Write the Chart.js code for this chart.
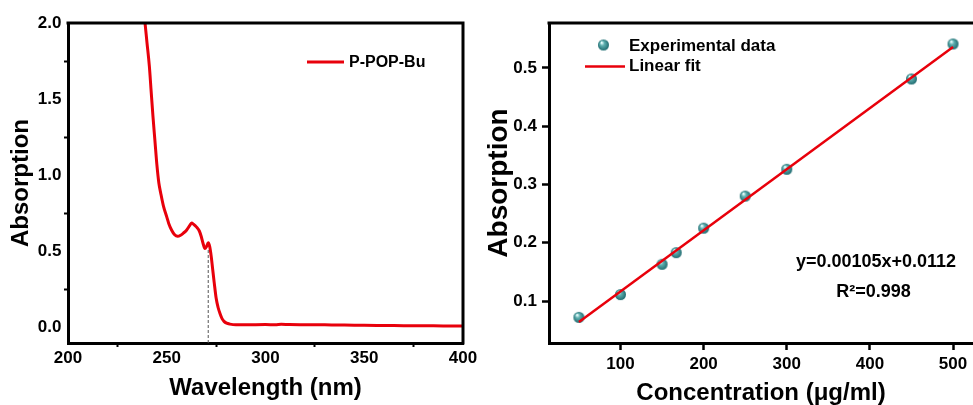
<!DOCTYPE html>
<html>
<head>
<meta charset="utf-8">
<script src="https://cdn.jsdelivr.net/npm/chart.js@4.4.1/dist/chart.umd.min.js"></script>
<style>
  html, body { margin: 0; padding: 0; background: #fff; overflow: hidden; width: 973px; height: 405px; }
  canvas { position: absolute; top: 0; }
  #spectrum { left: 0; }
  #calib { left: 478px; }
</style>
</head>
<body>
<canvas id="spectrum" width="485" height="405"></canvas>
<canvas id="calib" width="495" height="405"></canvas>
<script>
// UV-vis spectrum of P-POP-Bu (left panel)
const wavelength = [238, 239, 240, 241.2, 242, 243, 244, 245, 246, 247, 248.3, 250, 251, 252.5, 254, 255.5,
  257, 258.5, 260, 261.5, 262.6, 263.5, 265, 266.5, 267.5, 268.5, 269.3, 270.2, 271, 271.8, 272.5, 273.2,
  274, 275, 276, 277, 278, 279, 280.3, 282, 285, 290, 300, 305, 308, 312, 320, 330, 340, 350, 360, 370,
  380, 390, 400];
const absorbance = [2.12, 2.0, 1.87, 1.715, 1.57, 1.39, 1.23, 1.07, 0.95, 0.88, 0.80, 0.728, 0.685, 0.64,
  0.61, 0.6, 0.607, 0.622, 0.64, 0.668, 0.688, 0.68, 0.662, 0.635, 0.597, 0.548, 0.52, 0.535, 0.558,
  0.53, 0.47, 0.39, 0.3, 0.195, 0.133, 0.092, 0.06, 0.042, 0.03, 0.024, 0.02, 0.02, 0.021, 0.02, 0.023,
  0.021, 0.02, 0.019, 0.018, 0.016, 0.015, 0.014, 0.013, 0.012, 0.011];
// dashed marker under the 271 nm shoulder
const markerX = [271, 271];
const markerY = [-0.1, 0.52];

// calibration (right panel)
const concentration = [50, 100, 150, 167, 200, 250, 300, 450, 500];
const measured = [0.072, 0.111, 0.163, 0.183, 0.225, 0.28, 0.326, 0.481, 0.541];
const fitX = [50, 500];
const fitY = [0.064, 0.536];

const RED = '#e8000b';
const FONT = "'Liberation Sans', Arial, sans-serif";

Chart.defaults.font.family = FONT;
Chart.defaults.font.weight = 'bold';
Chart.defaults.color = '#000';

function isStep(v, step) {
  const q = v / step;
  return Math.abs(q - Math.round(q)) < 1e-6;
}

// shaded ball used for the experimental points
function makeBall(r) {
  const c = document.createElement('canvas');
  c.width = c.height = Math.ceil(2 * r + 2);
  const g = c.getContext('2d');
  const m = c.width / 2;
  const grad = g.createRadialGradient(m - r * 0.35, m - r * 0.45, r * 0.1, m, m, r);
  grad.addColorStop(0, '#eaffff');
  grad.addColorStop(0.35, '#5fb0b0');
  grad.addColorStop(1, '#1f6b70');
  g.fillStyle = grad;
  g.beginPath();
  g.arc(m, m, r, 0, Math.PI * 2);
  g.fill();
  return c;
}
const ball = makeBall(5.5);

// top (and right) edges of the plot box
const frame = {
  id: 'frame',
  afterDraw: function(chart, args, opts) {
    const a = chart.chartArea;
    const ctx = chart.ctx;
    ctx.save();
    ctx.strokeStyle = '#000';
    ctx.lineWidth = 3;
    ctx.beginPath();
    ctx.moveTo(a.left - 1.5, a.top);
    ctx.lineTo(a.right + (opts.right ? 1.5 : 0), a.top);
    if (opts.right) {
      ctx.moveTo(a.right, a.top);
      ctx.lineTo(a.right, a.bottom + 1.5);
    }
    ctx.stroke();
    ctx.restore();
  }
};

// hand-placed legend + equation text
const notes = {
  id: 'notes',
  afterDraw: function(chart, args, opts) {
    const ctx = chart.ctx;
    ctx.save();
    ctx.textBaseline = 'middle';
    ctx.fillStyle = '#000';
    (opts.lines || []).forEach(function(l) {
      ctx.strokeStyle = l.color;
      ctx.lineWidth = l.width;
      ctx.beginPath();
      ctx.moveTo(l.x1, l.y);
      ctx.lineTo(l.x2, l.y);
      ctx.stroke();
    });
    (opts.balls || []).forEach(function(b) {
      ctx.drawImage(ball, b.x - ball.width / 2, b.y - ball.height / 2);
    });
    (opts.texts || []).forEach(function(t) {
      ctx.font = 'bold ' + t.size + 'px ' + FONT;
      ctx.textAlign = t.align || 'left';
      ctx.fillText(t.text, t.x, t.y);
    });
    ctx.restore();
  }
};

new Chart(document.getElementById('spectrum'), {
  type: 'scatter',
  data: {
    datasets: [
      {
        label: 'P-POP-Bu',
        data: wavelength.map(function(x, i) { return { x: x, y: absorbance[i] }; }),
        showLine: true,
        borderColor: RED,
        borderWidth: 3,
        pointRadius: 0,
        cubicInterpolationMode: 'monotone',
        order: 0
      },
      {
        label: 'marker',
        data: markerX.map(function(x, i) { return { x: x, y: markerY[i] }; }),
        showLine: true,
        borderColor: '#555',
        borderWidth: 1,
        borderDash: [3, 2],
        pointRadius: 0,
        order: 1
      }
    ]
  },
  options: {
    responsive: false,
    animation: false,
    devicePixelRatio: 1,
    events: [],
    layout: { autoPadding: false, padding: { top: 23, right: 22, left: 0, bottom: 0 } },
    plugins: {
      legend: { display: false },
      tooltip: { enabled: false },
      frame: { right: true },
      notes: {
        lines: [{ x1: 307, x2: 344, y: 62, color: RED, width: 3 }],
        texts: [{ text: 'P-POP-Bu', x: 349, y: 62.5, size: 16 }]
      }
    },
    scales: {
      x: {
        type: 'linear',
        min: 200,
        max: 400,
        afterFit: function(s) { s.height = 62; },
        ticks: {
          stepSize: 25,
          includeBounds: false,
          autoSkip: false,
          maxRotation: 0,
          padding: 1.5,
          font: { size: 17 },
          callback: function(v) { return isStep(v, 50) ? v : ''; }
        },
        grid: {
          drawOnChartArea: false,
          tickLength: 4,
          tickWidth: 2,
          tickColor: function(c) { return isStep(c.tick.value, 50) ? 'rgba(0,0,0,0)' : '#000'; }
        },
        border: { color: '#000', width: 3 },
        title: { display: true, text: 'Wavelength (nm)', font: { size: 24 }, padding: { top: 0, bottom: 2.6 } }
      },
      y: {
        min: -0.1,
        max: 2.0,
        afterFit: function(s) { s.width = 68; },
        ticks: {
          stepSize: 0.25,
          includeBounds: false,
          autoSkip: false,
          padding: 2.5,
          font: { size: 17 },
          callback: function(v) { return isStep(v, 0.5) ? v.toFixed(1) : ''; }
        },
        grid: {
          drawOnChartArea: false,
          tickLength: 4,
          tickWidth: 2,
          tickColor: function(c) { return isStep(c.tick.value, 0.5) ? 'rgba(0,0,0,0)' : '#000'; }
        },
        border: { color: '#000', width: 3 },
        title: { display: true, text: 'Absorption', font: { size: 24 }, padding: { top: 7, bottom: 0 } }
      }
    }
  },
  plugins: [frame, notes]
});

new Chart(document.getElementById('calib'), {
  type: 'scatter',
  data: {
    datasets: [
      {
        label: 'Linear fit',
        data: fitX.map(function(x, i) { return { x: x, y: fitY[i] }; }),
        showLine: true,
        borderColor: RED,
        borderWidth: 2.5,
        pointRadius: 0,
        order: 0
      },
      {
        label: 'Experimental data',
        data: concentration.map(function(x, i) { return { x: x, y: measured[i] }; }),
        pointStyle: ball,
        pointRadius: 5.5,
        order: 1
      }
    ]
  },
  options: {
    responsive: false,
    animation: false,
    devicePixelRatio: 1,
    events: [],
    layout: { autoPadding: false, padding: { top: 23, right: 0, left: 0, bottom: 0 } },
    plugins: {
      legend: { display: false },
      tooltip: { enabled: false },
      frame: { right: false },
      notes: {
        lines: [{ x1: 107, x2: 147, y: 66.5, color: RED, width: 2.5 }],
        balls: [{ x: 125.5, y: 45 }],
        texts: [
          { text: 'Experimental data', x: 151, y: 46, size: 17 },
          { text: 'Linear fit', x: 151, y: 66.5, size: 17 },
          { text: 'y=0.00105x+0.0112', x: 398, y: 262, size: 18, align: 'center' },
          { text: 'R\u00b2=0.998', x: 395.5, y: 292.5, size: 18, align: 'center' }
        ]
      }
    },
    scales: {
      x: {
        type: 'linear',
        min: 14,
        max: 524,
        afterFit: function(s) { s.height = 62; },
        ticks: { includeBounds: false, autoSkip: false, maxRotation: 0, padding: 4.5, font: { size: 17 } },
        grid: { drawOnChartArea: false, tickLength: 7, tickWidth: 2.5, tickColor: '#000' },
        border: { color: '#000', width: 3 },
        title: { display: true, text: 'Concentration (\u03bcg/ml)', font: { size: 24, lineHeight: 0.96 }, padding: 0 }
      },
      y: {
        min: 0.028,
        max: 0.577,
        afterFit: function(s) { s.width = 71; },
        ticks: {
          includeBounds: false,
          autoSkip: false,
          padding: 5,
          font: { size: 17 },
          callback: function(v) { return v.toFixed(1); }
        },
        grid: { drawOnChartArea: false, tickLength: 7, tickWidth: 2.5, tickColor: '#000' },
        border: { color: '#000', width: 3 },
        title: { display: true, text: 'Absorption', font: { size: 28 }, padding: { top: 4.7, bottom: 0 } }
      }
    }
  },
  plugins: [frame, notes]
});
</script>
</body>
</html>
